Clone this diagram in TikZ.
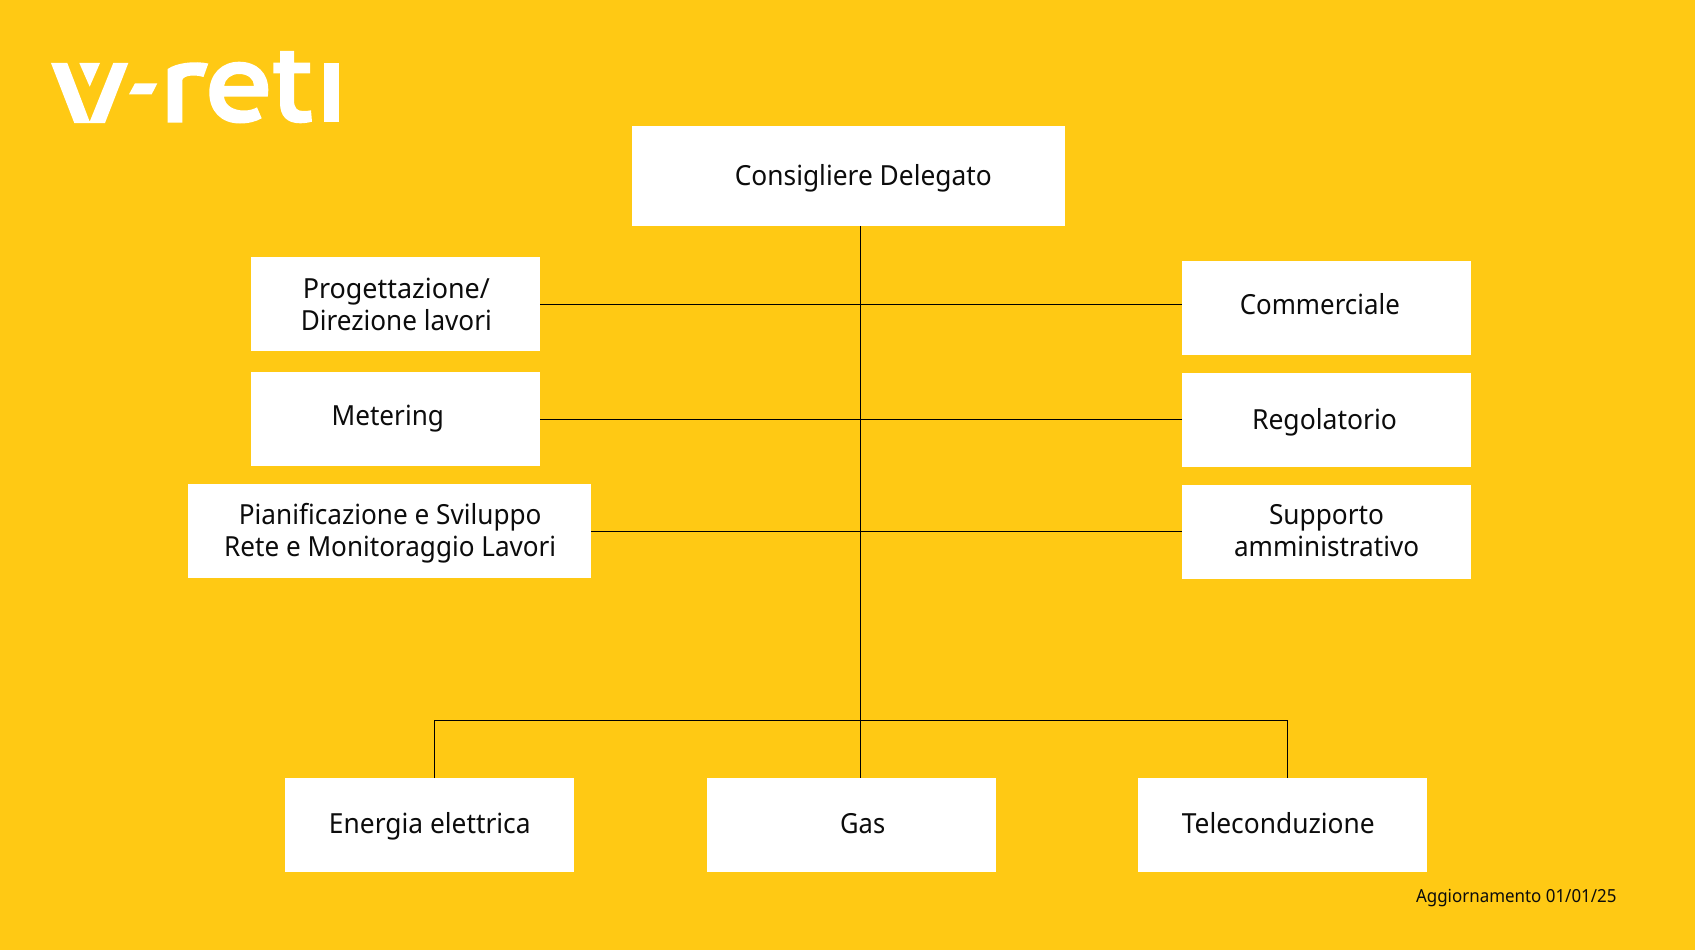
\documentclass[tikz,border=0pt]{standalone}
\usepackage{graphicx}
\usepackage{fontspec}
\setmainfont{Noto Sans}
\definecolor{bgyellow}{HTML}{FFC914}
\definecolor{inkk}{HTML}{0C0C0C}
\newcommand{\fitw}[2]{\resizebox{#1pt}{\height}{#2}}
\tikzset{
  whitebox/.style={fill=white,draw=none,inner sep=0pt,outer sep=0pt},
  lab/.style={text=inkk,inner sep=0pt,outer sep=0pt,anchor=base,align=center,font=\fontsize{27.7}{31.6}\selectfont},
  smalllab/.style={lab,font=\fontsize{18}{22}\selectfont},
  conn/.style={draw=black,line width=1pt},
  logo/.style={fill=white,draw=none}
}
\newcommand{\bx}[5]{\node[whitebox,minimum width={#4-#2},minimum height={#5-#3}] (#1) at ({(#2+#4)/2},{(#3+#5)/2}) {};}
\begin{document}
\begin{tikzpicture}[x=1pt,y=-1pt]
\useasboundingbox (0,0) rectangle (1695,950);
\fill[bgyellow] (0,0) rectangle (1695,950);
% logo
\fill[logo] (51,63)--(67.3,63)--(89.7,121.7)--(113.3,63)--(128.3,63)--(105,123)--(74.3,123)--cycle;
\fill[logo] (79.3,63)--(100,63)--(89.7,86.7)--cycle;
\fill[logo] (135,83.3)--(157.3,83.3)--(151.7,94.3)--(129,94.3)--cycle;
\fill[logo] (167.7,122.7)--(167.7,69) .. controls (176,63) and (194,60.5) .. (208.3,63.5)--(203.5,77) .. controls (195,74.5) and (184,75) .. (182.3,80)--(182.3,122.7)--cycle;
\fill[logo,even odd rule] (267.7,96.7)--(224,96.7) .. controls (225,106) and (234,110.5) .. (244,110.5) .. controls (250,110.5) and (254,109) .. (257,107.3)--(261.7,118.3) .. controls (256,121.5) and (249,123.5) .. (240,123.5) .. controls (221,123.5) and (209.3,111) .. (209.3,92.5) .. controls (209.3,74) and (222,61.7) .. (239,61.7) .. controls (257,61.7) and (268.3,73) .. (268.3,90) .. controls (268.3,92.5) and (268,95) .. (267.7,96.7)--cycle
 (224,86)--(254,86) .. controls (254,79) and (248,74) .. (239,74) .. controls (231,74) and (225,79) .. (224,86)--cycle;
\fill[logo] (280,51)--(294,51)--(294,62.7)--(310,62.7)--(310,73.3)--(294,73.3)--(294,100) .. controls (294,108) and (297,111) .. (303,111) .. controls (306,111) and (308.5,110.8) .. (311,110.3)--(312,121.7) .. controls (308,122.8) and (304,123.3) .. (300,123.3) .. controls (287,123.3) and (280,116) .. (280,103)--(280,73.3)--(273.3,73.3)--(273.3,62.7)--(280,62.7)--cycle;
\fill[logo] (324,63.3) rectangle (338.7,121.7);
% boxes
\bx{cd}{631.5}{126}{1064.5}{226}
\bx{prog}{251}{257}{540}{351}
\bx{meter}{251}{372}{540}{466}
\bx{pian}{188}{484}{591}{578}
\bx{comm}{1182}{261}{1471}{355}
\bx{reg}{1182}{373}{1471}{467}
\bx{supp}{1182}{485}{1471}{579}
\bx{en}{285}{778}{574}{872}
\bx{gas}{707}{778}{996}{872}
\bx{tele}{1138}{778}{1427}{872}
% connector guides
\coordinate (trunk) at (860.4,720.7);
\coordinate (busL) at (434.7,720.7);
\coordinate (busR) at (1287.3,720.7);
\draw[conn] (cd.south -| trunk) -- (gas.north -| trunk);
\draw[conn] (prog.east) -- (prog.east -| comm.west);
\draw[conn] (meter.east) -- (meter.east -| reg.west);
\draw[conn] (pian.east) -- (pian.east -| supp.west);
\draw[conn] (en.north -| busL) -- (busL) -- (busR) -- (tele.north -| busR);
% labels
\node[lab] (tcd) at (863.3,185.5) {\fitw{257}{Consigliere Delegato}};
\node[lab] (tprog) at (396.3,330) {\fitw{187}{Progettazione/}\\\fitw{191}{Direzione lavori}};
\node[lab] (tmeter) at (387.8,425) {\fitw{112.3}{Metering}};
\node[lab] (tpian) at (390.2,556) {\fitw{302.7}{Pianificazione e Sviluppo}\\\fitw{332}{Rete e Monitoraggio Lavori}};
\node[lab] (tcomm) at (1319.8,314.5) {\fitw{160}{Commerciale}};
\node[lab] (treg) at (1324.5,429.5) {\fitw{145}{Regolatorio}};
\node[lab] (tsupp) at (1326.5,556) {\fitw{115}{Supporto}\\\fitw{185}{amministrativo}};
\node[lab] (ten) at (429.8,833.5) {\fitw{201.6}{Energia elettrica}};
\node[lab] (tgas) at (862.7,833.5) {\fitw{45}{Gas}};
\node[lab] (ttele) at (1278.3,833.5) {\fitw{193}{Teleconduzione}};
\node[smalllab] (tagg) at (1516.3,902.5) {\fitw{200.5}{Aggiornamento 01/01/25}};
\end{tikzpicture}
\end{document}
